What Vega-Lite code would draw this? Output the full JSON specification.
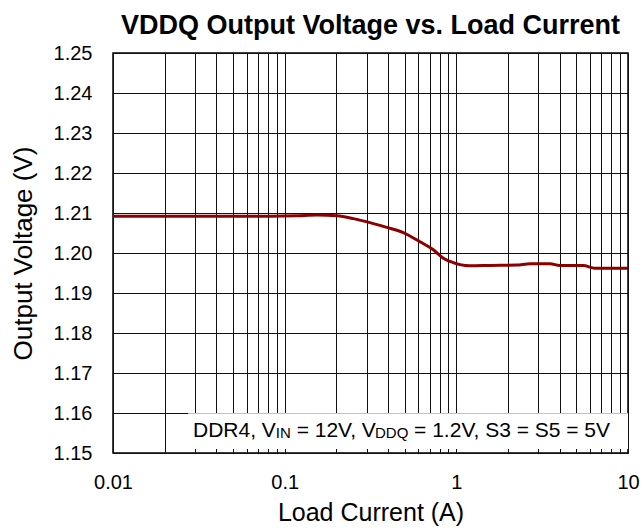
{
  "$schema": "https://vega.github.io/schema/vega-lite/v6.json",
  "width": 515,
  "height": 400,
  "autosize": {"type": "none"},
  "padding": {"left": 113, "top": 53, "right": 16, "bottom": 79},
  "background": "white",
  "config": {
    "font": "Liberation Sans",
    "view": {"stroke": "#000", "strokeWidth": 1.5},
    "axis": {"labelColor": "#000", "titleColor": "#000", "titleFontWeight": "normal", "gridColor": "#111", "gridWidth": 1, "gridOpacity": 1, "ticks": false, "domain": false, "labelOverlap": false, "labelFlush": false}
  },
  "title": {"text": "VDDQ Output Voltage vs. Load Current", "fontSize": 27, "fontWeight": "bold", "color": "#000", "offset": 3},
  "datasets": {
    "curve": [
      {"current": 0.01, "voltage": 1.2092},
      {"current": 0.02, "voltage": 1.2092},
      {"current": 0.05, "voltage": 1.2092},
      {"current": 0.082, "voltage": 1.2092},
      {"current": 0.117, "voltage": 1.2093},
      {"current": 0.154, "voltage": 1.2095},
      {"current": 0.201, "voltage": 1.2093},
      {"current": 0.251, "voltage": 1.2086},
      {"current": 0.314, "voltage": 1.2076},
      {"current": 0.393, "voltage": 1.2064},
      {"current": 0.491, "voltage": 1.2051},
      {"current": 0.614, "voltage": 1.2028},
      {"current": 0.734, "voltage": 1.2008},
      {"current": 0.84, "voltage": 1.1987},
      {"current": 0.959, "voltage": 1.1976},
      {"current": 1.05, "voltage": 1.1971},
      {"current": 1.2, "voltage": 1.1968},
      {"current": 1.57, "voltage": 1.1969},
      {"current": 2.24, "voltage": 1.197},
      {"current": 2.69, "voltage": 1.1973},
      {"current": 3.51, "voltage": 1.1973},
      {"current": 4.01, "voltage": 1.1969},
      {"current": 5.48, "voltage": 1.1969},
      {"current": 6.41, "voltage": 1.1962},
      {"current": 10, "voltage": 1.1962}
    ]
  },
  "layer": [
    {
      "data": {"name": "curve"},
      "mark": {"type": "line", "color": "#8B0000", "strokeWidth": 3, "interpolate": "monotone"},
      "encoding": {
        "x": {
          "field": "current", "type": "quantitative",
          "scale": {"type": "log", "domain": [0.01, 10], "nice": false},
          "axis": {
            "title": "Load Current (A)",
            "values": [0.01,0.02,0.03,0.04,0.05,0.06,0.07,0.08,0.09,0.1,0.2,0.3,0.4,0.5,0.6,0.7,0.8,0.9,1,2,3,4,5,6,7,8,9,10],
            "format": "~g",
            "labelExpr": "(datum.value == 0.01 || datum.value == 0.1 || datum.value == 1 || datum.value == 10) ? datum.label : ''",
            "grid": true,
            "labelOverlap": false,
            "labelFontSize": 20,
            "labelPadding": 19,
            "titleFontSize": 25,
            "titlePadding": 8
          }
        },
        "y": {
          "field": "voltage", "type": "quantitative",
          "scale": {"domain": [1.15, 1.25], "nice": false, "zero": false},
          "axis": {
            "title": "Output Voltage (V)",
            "values": [1.15,1.16,1.17,1.18,1.19,1.2,1.21,1.22,1.23,1.24,1.25],
            "tickCount": 11,
            "format": ".2f",
            "labelExpr": "format(datum.value, '.2f')",
            "grid": true,
            "labelOverlap": false,
            "labelFontSize": 20,
            "labelPadding": 21,
            "titleFontSize": 26,
            "titlePadding": 17
          }
        }
      }
    },
    {
      "data": {"values": [{}]},
      "mark": {"type": "rect", "fill": "white"},
      "encoding": {
        "x": {"datum": 0.0274, "type": "quantitative"},
        "x2": {"datum": 10},
        "y": {"datum": 1.151, "type": "quantitative"},
        "y2": {"datum": 1.15993}
      }
    },
    {
      "data": {"values": [{}]},
      "mark": {"type": "text", "text": "DDR4, V", "fontSize": 21, "align": "left", "baseline": "alphabetic", "color": "#000"},
      "encoding": {"x": {"datum": 0.02924, "type": "quantitative"}, "y": {"datum": 1.1541, "type": "quantitative"}}
    },
    {
      "data": {"values": [{}]},
      "mark": {"type": "text", "text": "IN", "fontSize": 15, "align": "left", "baseline": "alphabetic", "dy": 1.5, "color": "#000"},
      "encoding": {"x": {"datum": 0.0888, "type": "quantitative"}, "y": {"datum": 1.1541, "type": "quantitative"}}
    },
    {
      "data": {"values": [{}]},
      "mark": {"type": "text", "text": "= 12V, V", "fontSize": 21, "align": "left", "baseline": "alphabetic", "color": "#000"},
      "encoding": {"x": {"datum": 0.1174, "type": "quantitative"}, "y": {"datum": 1.1541, "type": "quantitative"}}
    },
    {
      "data": {"values": [{}]},
      "mark": {"type": "text", "text": "DDQ", "fontSize": 15, "align": "left", "baseline": "alphabetic", "dy": 1.5, "color": "#000"},
      "encoding": {"x": {"datum": 0.3359, "type": "quantitative"}, "y": {"datum": 1.1541, "type": "quantitative"}}
    },
    {
      "data": {"values": [{}]},
      "mark": {"type": "text", "text": "= 1.2V, S3 = S5 = 5V", "fontSize": 21, "align": "left", "baseline": "alphabetic", "color": "#000"},
      "encoding": {"x": {"datum": 0.5675, "type": "quantitative"}, "y": {"datum": 1.1541, "type": "quantitative"}}
    }
  ]
}
